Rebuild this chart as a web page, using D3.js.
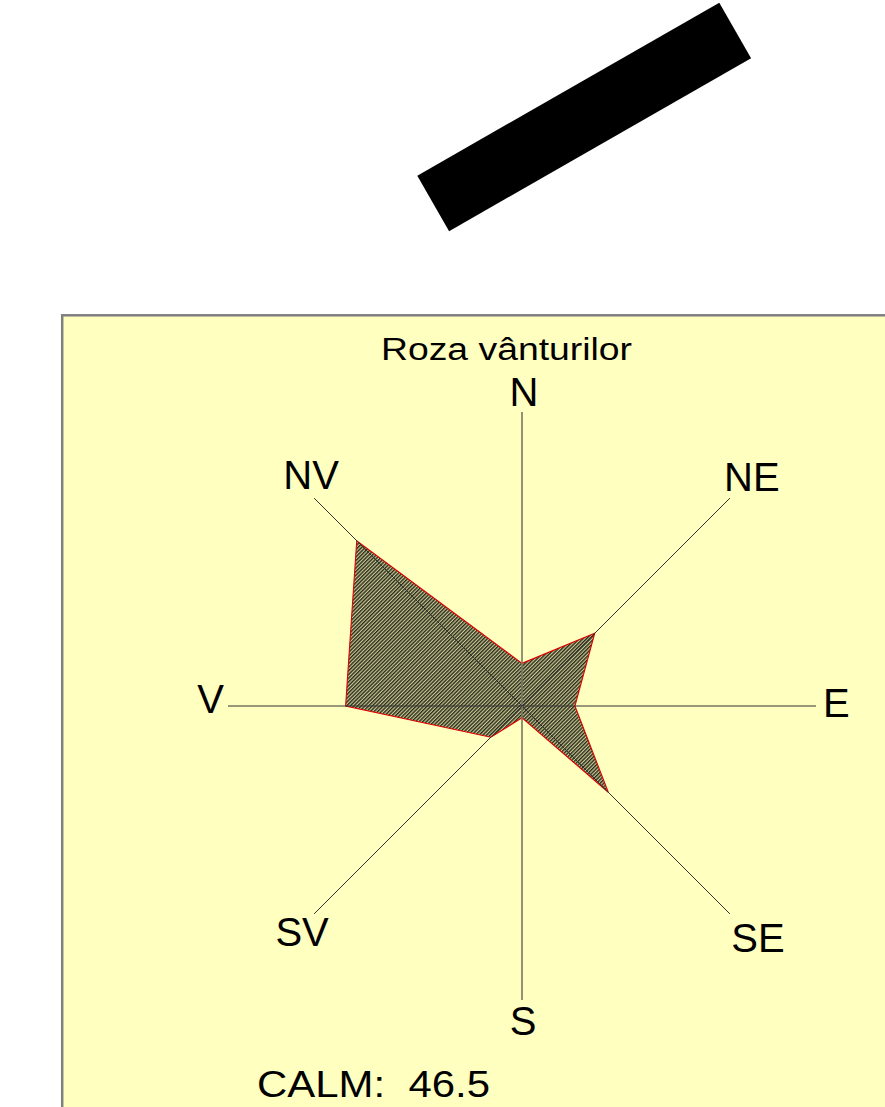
<!DOCTYPE html>
<html>
<head>
<meta charset="utf-8">
<script src="https://cdn.jsdelivr.net/npm/d3@7"></script>
<style>
  html, body { margin: 0; padding: 0; background: #ffffff; }
  svg { display: block; }
  text { font-family: "Liberation Sans", Arial, sans-serif; fill: #000; }
</style>
</head>
<body>
<svg id="chart" width="885" height="1107"></svg>
<script>
// ---- data ----
const directions = ["N", "NE", "E", "SE", "S", "SV", "V", "NV"];
const frequencies = [2.9, 7.0, 3.6, 8.3, 0.8, 3.0, 12.0, 15.9];
const maxFrequency = 20;
const calmValue = 46.5;
const chartTitle = "Roza vânturilor";

// ---- layout ----
const W = 885, H = 1107;
const cx = 522, cy = 706, R = 294;
const svg = d3.select("#chart");

// decorative black bar at top
svg.append("rect")
  .attr("x", 0).attr("y", 0)
  .attr("width", 348).attr("height", 64)
  .attr("fill", "#000")
  .attr("transform", "translate(417.3,175.7) rotate(-29.8)");

// panel
svg.append("rect")
  .attr("x", 62.2).attr("y", 315.3)
  .attr("width", W + 20).attr("height", H)
  .attr("fill", "#ffffc0")
  .attr("stroke", "#808080")
  .attr("stroke-width", 2.5);

// hatch pattern
const defs = svg.append("defs");
const pat = defs.append("pattern")
  .attr("id", "hatch")
  .attr("patternUnits", "userSpaceOnUse")
  .attr("width", 2.6).attr("height", 2.6)
  .attr("patternTransform", "rotate(45)");
pat.append("rect").attr("width", 2.6).attr("height", 2.6).attr("fill", "#c9c993");
pat.append("rect").attr("width", 1.4).attr("height", 2.6).attr("fill", "#2a2a1c");

const r = d3.scaleLinear().domain([0, maxFrequency]).range([0, R]);
const angle = d3.scalePoint().domain(directions).range([0, 2 * Math.PI * 7 / 8]);

const g = svg.append("g").attr("transform", `translate(${cx},${cy})`);

// polygon
const radial = d3.lineRadial()
  .angle((d, i) => angle(directions[i]))
  .radius(d => r(d))
  .curve(d3.curveLinearClosed);

g.append("path")
  .datum(frequencies)
  .attr("d", radial)
  .attr("fill", "url(#hatch)")
  .attr("stroke", "#e00000")
  .attr("stroke-width", 1.1)
  .attr("stroke-linejoin", "miter");

// axes
directions.forEach((d, i) => {
  const a = angle(d);
  const x2 = Math.sin(a) * r(maxFrequency);
  const y2 = -Math.cos(a) * r(maxFrequency);
  const main = (i % 2 === 0);
  g.append("line")
    .attr("x1", 0).attr("y1", 0)
    .attr("x2", x2).attr("y2", y2)
    .attr("stroke", i % 4 === 0 ? "#777766" : "#333")
    .attr("stroke-width", i % 4 === 0 ? 1.6 : 1);
});

// direction labels (offsets from axis ends)
const labelOffset = {
  N:  { dx: 2,   dy: -6,  anchor: "middle" },
  NE: { dx: 22,  dy: -7,  anchor: "middle" },
  E:  { dx: 7,   dy: 11,  anchor: "start" },
  SE: { dx: 28,  dy: 38,  anchor: "middle" },
  S:  { dx: 1,   dy: 35,  anchor: "middle" },
  SV: { dx: -12, dy: 32,  anchor: "middle" },
  V:  { dx: -4,  dy: 7,   anchor: "end" },
  NV: { dx: -3,  dy: -9,  anchor: "middle" }
};
directions.forEach(d => {
  const a = angle(d);
  const x = Math.sin(a) * r(maxFrequency);
  const y = -Math.cos(a) * r(maxFrequency);
  const o = labelOffset[d];
  g.append("text")
    .attr("x", x + o.dx).attr("y", y + o.dy)
    .attr("text-anchor", o.anchor)
    .attr("font-size", 40)
    .text(d);
});

// title
svg.append("text")
  .attr("x", 381).attr("y", 360)
  .attr("font-size", 31)
  .attr("textLength", 251)
  .attr("lengthAdjust", "spacingAndGlyphs")
  .text(chartTitle);

// calm
svg.append("text")
  .attr("x", 257).attr("y", 1097)
  .attr("font-size", 36)
  .attr("textLength", 233)
  .attr("lengthAdjust", "spacingAndGlyphs")
  .attr("xml:space", "preserve")
  .style("white-space", "pre")
  .text("CALM:  " + calmValue.toFixed(1));
</script>
</body>
</html>
